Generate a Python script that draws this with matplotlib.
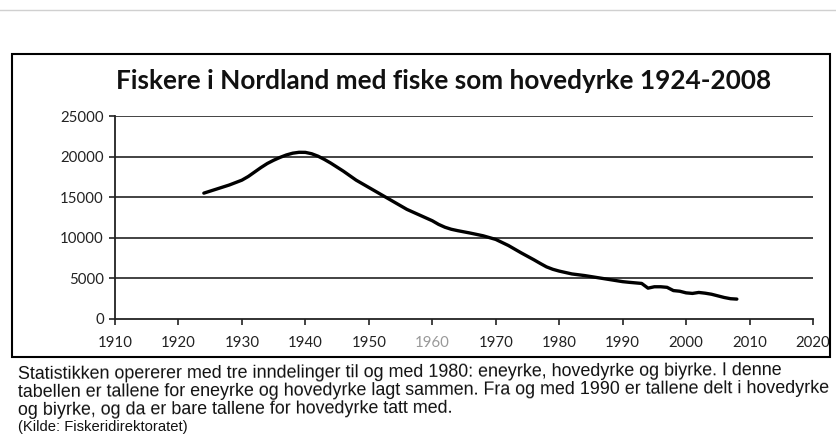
import matplotlib
matplotlib.use("Agg")
import matplotlib.pyplot as plt
from matplotlib.patches import Rectangle
from matplotlib.lines import Line2D

# ---- data ----
years = [1924, 1926, 1928, 1930, 1931, 1932, 1933, 1934, 1935, 1936, 1937,
         1938, 1939, 1940, 1941, 1942, 1943, 1944, 1946, 1948, 1950, 1952,
         1954, 1956, 1958, 1960, 1961, 1962, 1963, 1964, 1966, 1968, 1970,
         1972, 1974, 1976, 1977, 1978, 1979, 1980, 1982, 1984, 1986, 1988,
         1990, 1991, 1992, 1993, 1994, 1995, 1996, 1997, 1998, 1999, 2000,
         2001, 2002, 2003, 2004, 2005, 2006, 2007, 2008]
fishers = [15500, 16000, 16500, 17100, 17550, 18100, 18650, 19150, 19550, 19900, 20200,
           20420, 20530, 20520, 20350, 20050, 19650, 19200, 18200, 17100, 16200, 15300,
           14400, 13500, 12800, 12100, 11650, 11300, 11050, 10880, 10580, 10250, 9800,
           9050, 8150, 7300, 6850, 6420, 6120, 5900, 5550, 5350, 5100, 4850,
           4600, 4520, 4450, 4380, 3800, 3970, 3970, 3900, 3500, 3420, 3220,
           3150, 3270, 3180, 3050, 2850, 2650, 2500, 2450]

x_ticks = [1910, 1920, 1930, 1940, 1950, 1960, 1970, 1980, 1990, 2000, 2010, 2020]
y_ticks = [0, 5000, 10000, 15000, 20000, 25000]

title = "Fiskere i Nordland med fiske som hovedyrke 1924-2008"
caption_lines = [
    "Statistikken opererer med tre inndelinger til og med 1980: eneyrke, hovedyrke og biyrke. I denne",
    "tabellen er tallene for eneyrke og hovedyrke lagt sammen. Fra og med 1990 er tallene delt i hovedyrke",
    "og biyrke, og da er bare tallene for hovedyrke tatt med.",
]
source = "(Kilde: Fiskeridirektoratet)"

W, H = 837, 440
fig = plt.figure(figsize=(W / 100, H / 100), dpi=100)
fig.patch.set_facecolor("white")

def fx(px):
    return px / W

def fy(py):
    return 1 - py / H

# faint scan border line at top
fig.add_artist(Line2D([0, 1], [fy(10), fy(10)], color="#d0d0d0", lw=1.0))

# chart frame
fig.add_artist(Rectangle((fx(12), fy(357)), fx(830) - fx(12), fy(54) - fy(357),
                         fill=False, edgecolor="black", lw=1.5))

# title
fig.text(fx(444), fy(81), title, ha="center", va="center",
         fontsize=18.8, fontweight="bold", family="Lato", color="#111111")

# axes
ax = fig.add_axes([fx(115), fy(319), fx(813) - fx(115), fy(116) - fy(319)])
ax.set_xlim(1910, 2020)
ax.set_ylim(0, 25000)
ax.plot(years, fishers, color="black", lw=2.4, solid_joinstyle="round",
        solid_capstyle="round", zorder=3)

for v in y_ticks[1:]:
    ax.axhline(v, color="#222222", lw=1.2, zorder=1)

for s in ["top", "right"]:
    ax.spines[s].set_visible(False)
ax.spines["left"].set_color("#222222")
ax.spines["bottom"].set_color("#222222")
ax.spines["left"].set_linewidth(1.3)
ax.spines["bottom"].set_linewidth(1.3)

ax.set_xticks(x_ticks)
ax.set_yticks(y_ticks)
ax.set_xticklabels([str(t) for t in x_ticks])
ax.set_yticklabels([str(t) for t in y_ticks])
ax.tick_params(axis="x", direction="out", length=4, width=1.2, pad=8,
               labelsize=10.8, colors="#222222")
ax.tick_params(axis="y", direction="out", length=4, width=1.2, pad=4,
               labelsize=10.8, colors="#222222")
for lab in ax.get_xticklabels() + ax.get_yticklabels():
    lab.set_family("Lato")
for lab in ax.get_xticklabels():
    if lab.get_text() == "1960":
        lab.set_color("#999999")
ax.set_facecolor("none")

# caption (one text block, slight scan tilt)
fig.text(fx(18), fy(366), "\n".join(caption_lines), ha="left", va="top",
         fontsize=12.9, family="Liberation Sans", color="#111111",
         linespacing=1.08, rotation=0.3, rotation_mode="anchor")
fig.text(fx(18), fy(431), source, ha="left", va="baseline", fontsize=10.6,
         family="Liberation Sans", color="#111111")

fig.savefig("out.png", dpi=100, facecolor="white")
